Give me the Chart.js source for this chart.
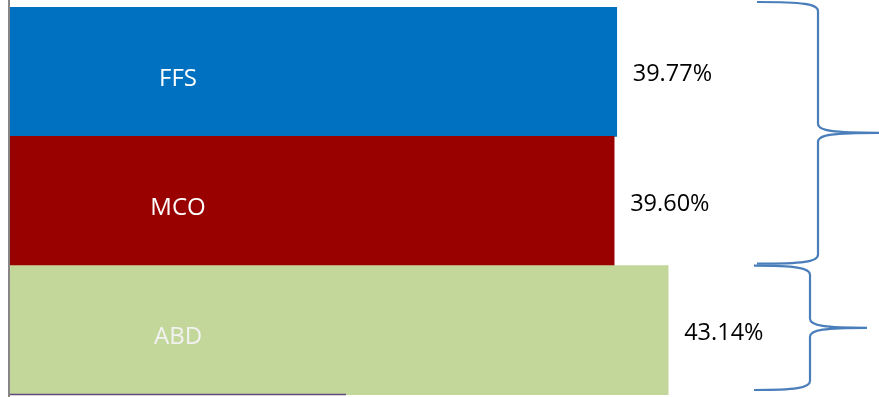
<!DOCTYPE html>
<html>
<head>
<meta charset="utf-8">
<script src="https://cdn.jsdelivr.net/npm/chart.js@4"></script>
<style>
  html, body { margin: 0; padding: 0; background: #fff; }
  #wrap { width: 879px; height: 397px; position: relative; }
</style>
</head>
<body>
<div id="wrap"><canvas id="myChart"></canvas></div>
<script>
const categories = ['FFS', 'MCO', 'ABD'];
const shares = [39.77, 39.60, 43.14];
const valueLabels = ['39.77%', '39.60%', '43.14%'];
const barColors = ['#0070C0', '#990000', '#C4D79B'];
const nameColors = ['#ffffff', '#ffffff', '#f2f2f2'];
// braces group categories: first two together, last one alone
const braceGroups = [[0, 1], [2, 2]];

// draws names inside bars, values after bars, axis line and the braces
const decorations = {
  id: 'decorations',
  afterDatasetsDraw(chart) {
    const ctx = chart.ctx;
    const area = chart.chartArea;
    const y = chart.scales.y;
    const bars = chart.getDatasetMeta(0).data;

    ctx.save();
    ctx.textBaseline = 'middle';
    bars.forEach((bar, i) => {
      ctx.font = '24px "Open Sans", sans-serif';
      ctx.fillStyle = nameColors[i];
      ctx.textAlign = 'center';
      ctx.fillText(categories[i], area.left + 168, bar.y + 7);
      ctx.fillStyle = '#000';
      ctx.textAlign = 'left';
      ctx.font = '23.5px "Open Sans", sans-serif';
      ctx.fillText(valueLabels[i], bar.x + 16, bar.y + 3);
    });

    // left axis
    ctx.strokeStyle = '#868686';
    ctx.lineWidth = 2;
    ctx.beginPath();
    ctx.moveTo(area.left - 1, 0);
    ctx.lineTo(area.left - 1, chart.height);
    ctx.stroke();

    // short bottom rule
    ctx.strokeStyle = '#604A7B';
    ctx.lineWidth = 1.5;
    ctx.beginPath();
    ctx.moveTo(area.left, area.bottom - 0.5);
    ctx.lineTo(area.left + 336, area.bottom - 0.5);
    ctx.stroke();

    // braces
    ctx.strokeStyle = '#4A7EBB';
    ctx.lineWidth = 2.2;
    braceGroups.forEach((g, k) => {
      const top = y.getPixelForValue(g[0] - 0.5) - (k === 0 ? 5 : 0);
      const bot = y.getPixelForValue(g[1] + 0.5) - (k === 0 ? 2 : 5);
      const mid = (top + bot) / 2;
      const x0 = k === 0 ? 757 : 754;
      const xs = k === 0 ? 818 : 810;
      const xt = k === 0 ? 879 : 867;
      const r = 9;
      ctx.beginPath();
      ctx.moveTo(x0, top);
      ctx.bezierCurveTo(xs - 15, top, xs, top + 2, xs, top + r);
      ctx.lineTo(xs, mid - r);
      ctx.bezierCurveTo(xs, mid - 2, xs + 15, mid, xt, mid);
      ctx.bezierCurveTo(xs + 15, mid, xs, mid + 2, xs, mid + r);
      ctx.lineTo(xs, bot - r);
      ctx.bezierCurveTo(xs, bot - 2, xs - 15, bot, x0, bot);
      ctx.stroke();
    });
    ctx.restore();
  }
};

new Chart(document.getElementById('myChart'), {
  type: 'bar',
  data: {
    labels: categories,
    datasets: [{
      data: shares,
      backgroundColor: barColors,
      borderWidth: 0,
      barPercentage: 1,
      categoryPercentage: 1
    }]
  },
  options: {
    indexAxis: 'y',
    responsive: true,
    maintainAspectRatio: false,
    animation: false,
    layout: { padding: { left: 10, top: 7, bottom: 2, right: 0 } },
    plugins: {
      legend: { display: false },
      tooltip: { enabled: false }
    },
    scales: {
      x: { display: false, min: 0, max: 56.96 },
      y: { display: false }
    }
  },
  plugins: [decorations]
});
</script>
</body>
</html>
